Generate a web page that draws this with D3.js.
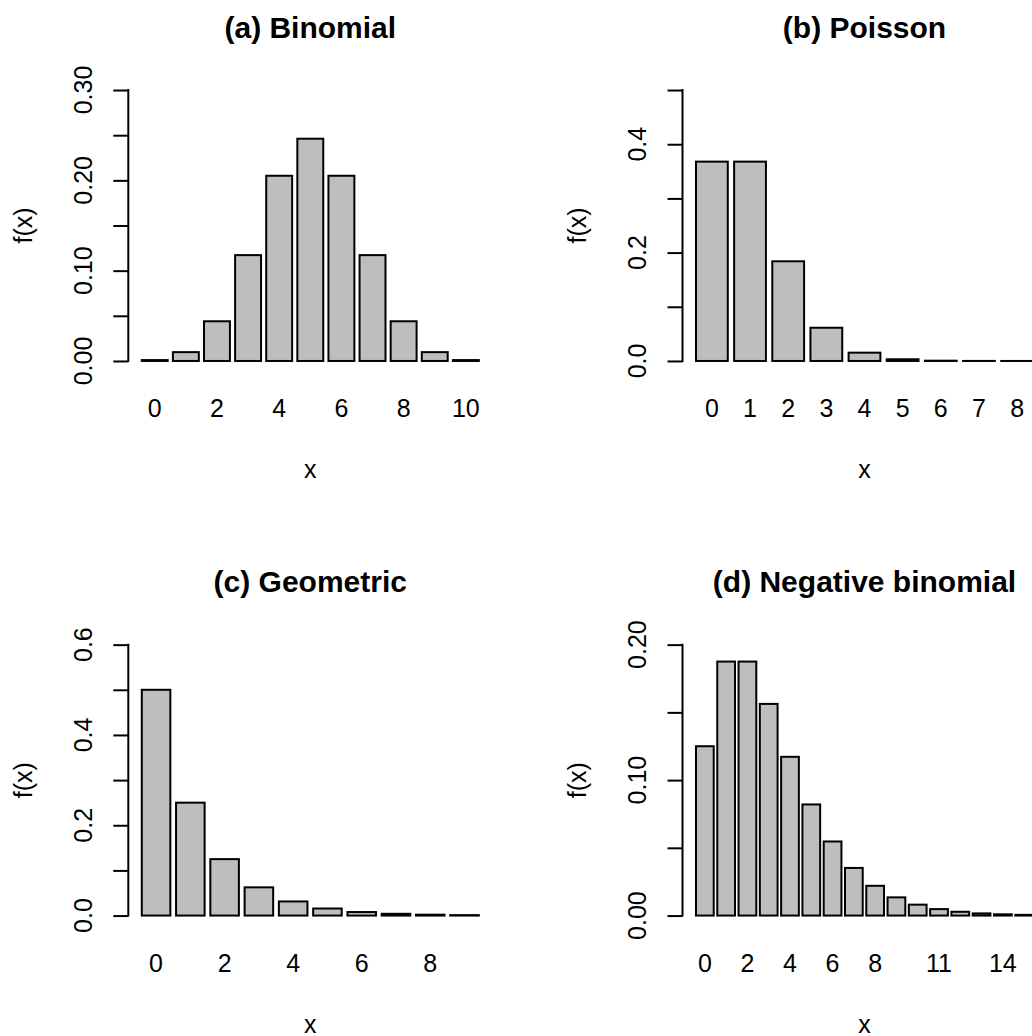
<!DOCTYPE html>
<html>
<head>
<meta charset="utf-8">
<script src="https://cdn.jsdelivr.net/npm/d3@7"></script>
<style>
    body { margin: 0; background: #fff; }
    svg { display: block; }
</style>
</head>
<body>
<div id="chart"></div>
<script>
"use strict";

// (a) Binomial
var binomX = ["0", "1", "2", "3", "4", "5", "6", "7", "8", "9", "10"];
var binomP = [0.00098, 0.00977, 0.04395, 0.11719, 0.20508, 0.24609, 0.20508, 0.11719, 0.04395, 0.00977, 0.00098];
var binomYTicks = [0, 0.05, 0.10, 0.15, 0.20, 0.25, 0.30];
var binomYLabels = ["0.00", "", "0.10", "", "0.20", "", "0.30"];
var binomXLabels = ["0", "2", "4", "6", "8", "10"];

// (b) Poisson
var poisX = ["0", "1", "2", "3", "4", "5", "6", "7", "8"];
var poisP = [0.36788, 0.36788, 0.18394, 0.06131, 0.01533, 0.00307, 0.00051, 0.00007, 0.00001];
var poisYTicks = [0, 0.1, 0.2, 0.3, 0.4, 0.5];
var poisYLabels = ["0.0", "", "0.2", "", "0.4", ""];
var poisXLabels = ["0", "1", "2", "3", "4", "5", "6", "7", "8"];

// (c) Geometric
var geomX = ["0", "1", "2", "3", "4", "5", "6", "7", "8", "9"];
var geomP = [0.5, 0.25, 0.125, 0.0625, 0.03125, 0.01563, 0.00781, 0.00391, 0.00195, 0.00098];
var geomYTicks = [0, 0.1, 0.2, 0.3, 0.4, 0.5, 0.6];
var geomYLabels = ["0.0", "", "0.2", "", "0.4", "", "0.6"];
var geomXLabels = ["0", "2", "4", "6", "8"];

// (d) Negative binomial
var nbinX = ["0", "1", "2", "3", "4", "5", "6", "7", "8", "9", "10", "11", "12", "13", "14", "15"];
var nbinP = [0.125, 0.1875, 0.1875, 0.15625, 0.11719, 0.08203, 0.05469, 0.03516, 0.02197, 0.01343,
    0.00806, 0.00476, 0.00278, 0.0016, 0.00092, 0.00052];
var nbinYTicks = [0, 0.05, 0.10, 0.15, 0.20];
var nbinYLabels = ["0.00", "", "0.10", "", "0.20"];
var nbinXLabels = ["0", "2", "4", "6", "8", "11", "14"];

var Font = "'Liberation Sans', Arial, Helvetica, sans-serif",
    BarFill = "#bebebe",
    PlotWidth = 364,
    PlotHeight = 292.6,
    PanelLeft = [128.3, 682.5],
    PanelTop = [79.2, 633.8];

var svg = d3.select("#chart")
    .append("svg")
    .attr("width", 1032)
    .attr("height", 1036)
    .style("font-family", Font);

drawPanel(0, 0, "(a) Binomial", binomX, binomP, binomYTicks, binomYLabels, binomXLabels);
drawPanel(1, 0, "(b) Poisson", poisX, poisP, poisYTicks, poisYLabels, poisXLabels);
drawPanel(0, 1, "(c) Geometric", geomX, geomP, geomYTicks, geomYLabels, geomXLabels);
drawPanel(1, 1, "(d) Negative binomial", nbinX, nbinP, nbinYTicks, nbinYLabels, nbinXLabels);

function drawPanel(col, row, title, cats, values, yTicks, yLabels, xLabels) {
    var n = cats.length;
    // barplot units: bar i spans [0.2 + 1.2 i, 1.2 + 1.2 i], range padded by 4%
    var lo = 0.2, hi = 1.2 * n, pad = 0.04 * (hi - lo);
    var x = d3.scaleLinear().domain([lo - pad, hi + pad]).range([0, PlotWidth]);

    var yMax = yTicks[yTicks.length - 1];
    var y = d3.scaleLinear().domain([-0.04 * yMax, yMax * 1.04]).range([PlotHeight, 0]);

    var g = svg.append("g")
        .attr("transform", "translate(" + PanelLeft[col] + "," + PanelTop[row] + ")");

    g.selectAll("rect.bar")
        .data(values)
        .enter()
        .append("rect")
        .attr("class", "bar")
        .attr("x", function (d, i) { return x(0.2 + 1.2 * i); })
        .attr("width", function () { return x(1) - x(0); })
        .attr("y", function (d) { return y(d); })
        .attr("height", function (d) { return y(0) - y(d); })
        .style("fill", BarFill)
        .style("stroke", "#000")
        .style("stroke-width", 2);

    // y axis: line only between first and last tick
    var yAxis = g.append("g")
        .call(d3.axisLeft(y).tickValues(yTicks).tickSize(15).tickFormat(""));
    yAxis.select(".domain").remove();
    yAxis.selectAll(".tick line").style("stroke-width", 2);
    yAxis.append("line")
        .attr("x1", 0).attr("x2", 0)
        .attr("y1", y(0)).attr("y2", y(yMax))
        .style("stroke", "#000")
        .style("stroke-width", 2)
        .style("stroke-linecap", "square");

    g.selectAll("text.ylab")
        .data(yTicks)
        .enter()
        .append("text")
        .attr("class", "ylab")
        .attr("transform", function (d) { return "translate(-36.6," + y(d) + ") rotate(-90)"; })
        .attr("text-anchor", "middle")
        .style("font-size", "25px")
        .text(function (d, i) { return yLabels[i]; });

    // x labels at bar centres
    g.selectAll("text.xlab")
        .data(xLabels)
        .enter()
        .append("text")
        .attr("class", "xlab")
        .attr("x", function (d) { return x(0.7 + 1.2 * cats.indexOf(d)); })
        .attr("y", PlotHeight + 45.5)
        .attr("text-anchor", "middle")
        .style("font-size", "25px")
        .text(function (d) { return d; });

    g.append("text")
        .attr("x", PlotWidth / 2)
        .attr("y", PlotHeight + 106.5)
        .attr("text-anchor", "middle")
        .style("font-size", "25px")
        .text("x");

    g.append("text")
        .attr("transform", "translate(-96.6," + (PlotHeight / 2) + ") rotate(-90)")
        .attr("text-anchor", "middle")
        .style("font-size", "25px")
        .text("f(x)");

    g.append("text")
        .attr("x", PlotWidth / 2)
        .attr("y", -41.7)
        .attr("text-anchor", "middle")
        .style("font-size", "30px")
        .style("font-weight", "bold")
        .text(title);
}
</script>
</body>
</html>
